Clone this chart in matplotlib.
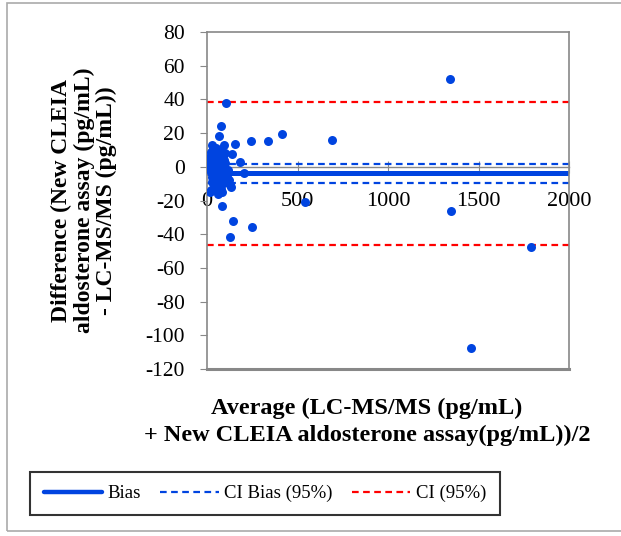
import matplotlib
matplotlib.use('Agg')
import numpy as np
import matplotlib.pyplot as plt
from matplotlib.patches import Rectangle
from matplotlib.lines import Line2D

plt.rcParams['font.family'] = ['Liberation Serif', 'DejaVu Serif']
plt.rcParams['axes.unicode_minus'] = False

# Bland-Altman data: mean of the two assays vs. their difference (pg/mL)
avg = [10, 15, 20, 25, 30, 35, 40, 45, 50, 55, 60, 65, 70, 75, 80, 85, 90, 95, 100, 110,
       12, 18, 24, 28, 33, 38, 42, 48, 52, 58, 62, 68, 72, 78, 82, 88, 95, 105, 115, 125,
       15, 22, 30, 40, 50, 60, 70, 85, 100, 120, 20, 35, 55, 65,
       105, 77, 64, 92, 156, 243, 339, 412, 137, 183, 205, 134, 82, 82, 146, 247, 125,
       540, 690, 1340, 1346, 1789, 1456]
diff = [0, 3, -3, 6, -6, 9, -9, 1, 11, -11, 4, -4, 7, -13, 10, -1, 5, -8, 2, -5,
        -1, 5, 9, -9, 12, -12, 0, 6, -7, 3, -14, 8, -4, 1, -10, -6, 4, -9, -2, -11,
        -15, -14, 13, 11, -12, -16, -3, -7, 8, -8, 7, -7, 2, -2,
        38, 24, 18, 12.7, 13.3, 15.3, 15.3, 19.7, 7.8, 2.8, -3.7, -12, -23, -15, -32, -35.5, -41.8,
        -21, 16.1, 52, -26.4, -47.8, -107.3]

bias = -3.8
ci_bias = [1.8, -9.5]
loa = [38.5, -46.2]

blue = '#0044e0'
red = '#ff0000'

fig = plt.figure(figsize=(6.21, 5.36), dpi=100)
ax = fig.add_axes([207/621, 1-369/536, (569-207)/621, (369-32)/536])

ax.scatter(avg, diff, s=42, color=blue, zorder=3, linewidths=0)
ax.plot([0, 2000], [bias, bias], color=blue, lw=3.6, zorder=2)
for v in ci_bias:
    ax.plot([0, 2000], [v, v], color=blue, lw=1.6, ls=(0, (3, 2)), zorder=2)
for v in loa:
    ax.plot([0, 2000], [v, v], color=red, lw=1.6, ls=(0, (3, 2)), zorder=2)

ax.set_xlim(0, 2000)
ax.set_ylim(-120, 80)
ax.set_xticks([0, 500, 1000, 1500, 2000])
ax.set_yticks(range(-120, 81, 20))

for s in ax.spines.values():
    s.set_color('#888888')
    s.set_linewidth(1.2)
ax.spines['bottom'].set_position(('data', 0))
ax.spines['bottom'].set_linewidth(1.0)
ax.spines['bottom'].set_zorder(1)
ax.plot([0, 2000], [-120, -120], color='#888888', lw=2.2, clip_on=False, zorder=1)
ax.tick_params(axis='x', direction='inout', length=8, color='#888888', labelsize=16, pad=14)
ax.tick_params(axis='y', direction='out', length=5, color='#888888', labelsize=15.5, pad=11)

ax.set_ylabel('Difference (New CLEIA\naldosterone assay (pg/mL)\n- LC-MS/MS (pg/mL))',
              fontsize=17, fontweight='bold', linespacing=1.1, labelpad=20)
fig.text(367/621, 1-398/536, 'Average (LC-MS/MS (pg/mL)\n+ New CLEIA aldosterone assay(pg/mL))/2',
         ha='center', va='top', fontsize=17.5, fontweight='bold', linespacing=1.35)

handles = [Line2D([], [], color=blue, lw=3.2, solid_capstyle='round'),
           Line2D([], [], color=blue, lw=1.6, ls=(0, (3, 2))),
           Line2D([], [], color=red, lw=1.6, ls=(0, (3, 2)))]
leg = fig.legend(handles, ['Bias', 'CI Bias (95%)', 'CI (95%)'], ncol=3,
                 loc='center', bbox_to_anchor=(265/621, 1-493.5/536),
                 frameon=True, fancybox=False, fontsize=13.5, handlelength=3.1,
                 handletextpad=0.3, columnspacing=1.05, borderpad=0.7)
leg.get_frame().set_edgecolor('black')
leg.get_frame().set_linewidth(1.5)

# outer chart border
fig.patches.append(Rectangle((7/621, 1-531/536), 620/621, 528/536, transform=fig.transFigure,
                             fill=False, edgecolor='#aaaaaa', lw=1.2))

fig.savefig('out.png', dpi=100)
